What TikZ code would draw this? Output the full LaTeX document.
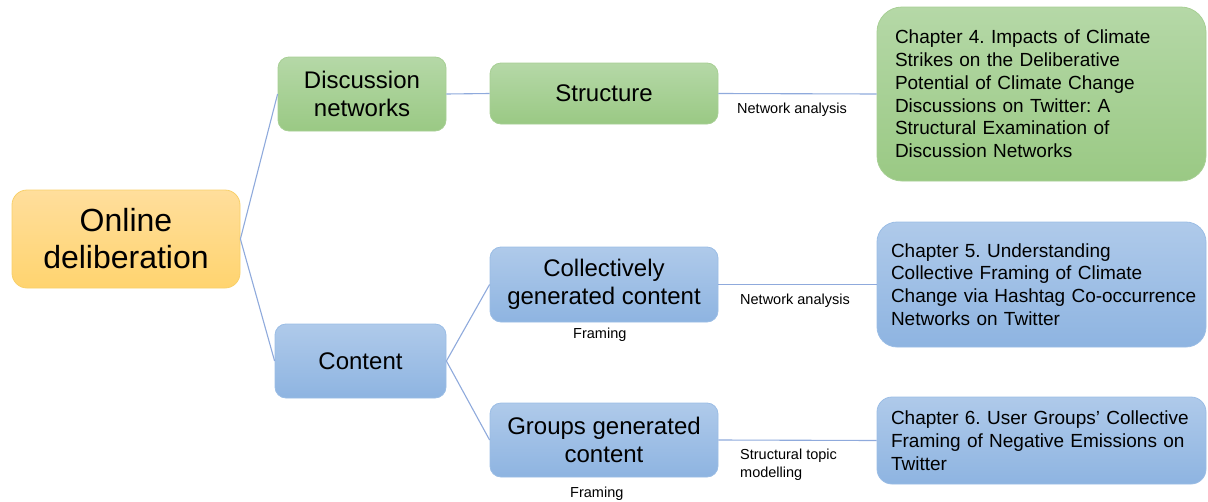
\documentclass[tikz,border=0pt]{standalone}
\usepackage{fontspec}
\setmainfont{Liberation Sans}
\frenchspacing
\definecolor{goldTop}{HTML}{FFDE9C}
\definecolor{goldBot}{HTML}{FFD46F}
\definecolor{goldLine}{HTML}{F8D06A}
\definecolor{greenTop}{HTML}{B5D8A7}
\definecolor{greenBot}{HTML}{9AC984}
\definecolor{greenLine}{HTML}{A7CF94}
\definecolor{blueTop}{HTML}{AFCAEA}
\definecolor{blueBot}{HTML}{8EB4E1}
\definecolor{blueLine}{HTML}{9BBDE5}
\definecolor{wire}{HTML}{8FAADC}
\begin{document}
\begin{tikzpicture}[x=1pt,y=-1pt,
  box/.style={rounded corners=11pt, draw, line width=0.8pt, inner sep=0pt,
    align=center, text=black},
  goldbox/.style={box, top color=goldTop, bottom color=goldBot, draw=goldLine},
  greenbox/.style={box, top color=greenTop, bottom color=greenBot, draw=greenLine},
  bluebox/.style={box, top color=blueTop, bottom color=blueBot, draw=blueLine},
  midfont/.style={font=\fontsize{24}{28.5}\selectfont},
  chap/.style={inner xsep=14pt, inner ysep=0pt, text width=301pt, align=left,
    minimum width=329pt, font=\fontsize{19}{22.8}\selectfont},
  wire/.style={draw=wire, line width=1.1pt},
  note/.style={inner sep=0pt, font=\fontsize{14.5}{17.3}\selectfont, text=black, align=left}]

\useasboundingbox (0,0) rectangle (1208,501);

% root
\node[goldbox, rounded corners=15pt, minimum width=228pt, minimum height=98pt,
  font=\fontsize{32}{37}\selectfont] (online) at (126,239) {Online\\deliberation};

% second level
\node[greenbox, minimum width=168pt, minimum height=74pt, midfont] (disc) at (362,94) {Discussion\\networks};
\node[bluebox, minimum width=171pt, minimum height=74pt, midfont] (content) at (360.5,361) {Content};

% third level
\node[greenbox, minimum width=228pt, minimum height=61pt, midfont] (struct) at (604,93.5) {Structure};
\node[bluebox, minimum width=228pt, minimum height=75pt, midfont] (collect) at (604,284.5) {Collectively\\generated content};
\node[bluebox, minimum width=228pt, minimum height=74pt, midfont] (groups) at (604,440) {Groups generated\\content};

% chapters
\node[greenbox, chap, rounded corners=25pt, minimum height=174pt] (ch4) at (1041.5,94)
  {\hspace*{4pt}Chapter 4. Impacts of Climate\\\hspace*{4pt}Strikes on the Deliberative\\\hspace*{4pt}Potential of Climate Change\\\hspace*{4pt}Discussions on Twitter: A\\\hspace*{4pt}Structural Examination of\\\hspace*{4pt}Discussion Networks};
\node[bluebox, chap, rounded corners=20pt, minimum height=125pt] (ch5) at (1041.5,284.5)
  {Chapter 5. Understanding\\Collective Framing of Climate\\\mbox{Change via Hashtag Co-occurrence}\\Networks on Twitter};
\node[bluebox, chap, rounded corners=15pt, minimum height=87pt] (ch6) at (1041.5,440.5)
  {Chapter 6. User Groups’ Collective\\Framing of Negative Emissions on\\Twitter};

% connectors
\draw[wire] (online.east) -- (disc.west);
\draw[wire] (online.east) -- (content.west);
\draw[wire] (disc.east) -- (struct.west);
\draw[wire] (content.east) -- (collect.west);
\draw[wire] (content.east) -- (groups.west);
\draw[wire] (struct.east) -- (ch4.west);
\draw[wire] (collect.east) -- (ch5.west);
\draw[wire] (groups.east) -- (ch6.west);

% method labels
\node[note, anchor=base west] (na1) at (737,113) {Network analysis};
\node[note, anchor=base west] (na2) at (740,304) {Network analysis};
\node[note, anchor=base west] (fr1) at (573,338) {Framing};
\node[note, anchor=north west] (stm) at (740,449) {Structural topic\\modelling};
\node[note, anchor=base west] (fr2) at (570,497) {Framing};
\end{tikzpicture}
\end{document}
